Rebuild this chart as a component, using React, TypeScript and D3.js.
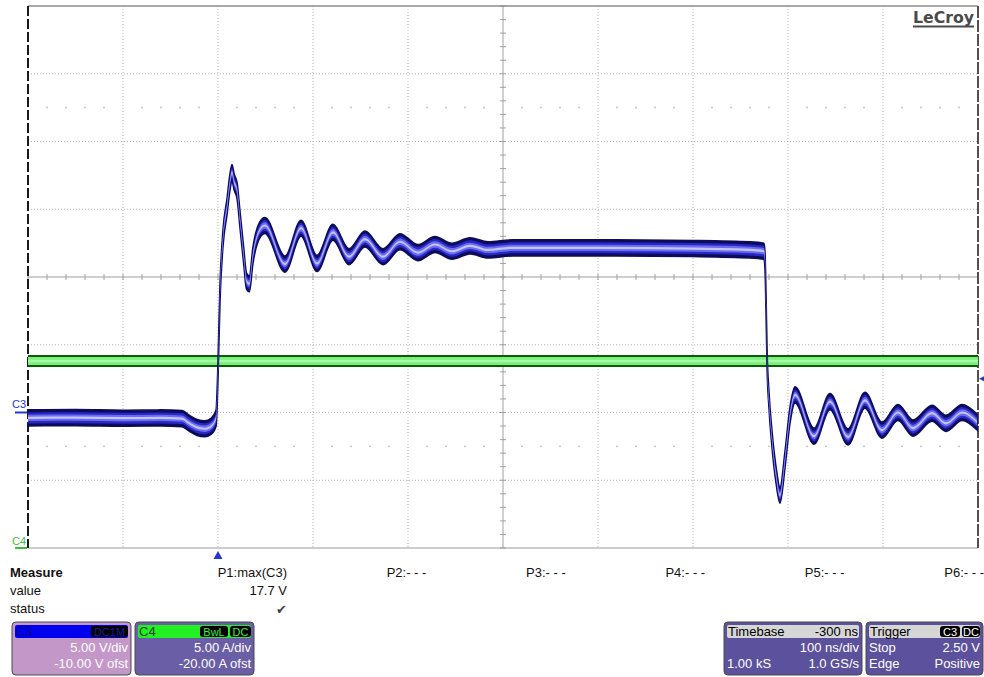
import React from 'react';
import * as d3 from 'd3';

// screen is 10 x 8 divisions
const timeRange = [-200, 800]; // ns, 100 ns/div, trigger at 0
const c3Range = [-10, 30]; // V, 5.00 V/div, -10.00 V ofst
const c4Range = [0, 40]; // A, 5.00 A/div, -20.00 A ofst

// C3 (blue) trace
const c3Time = [
  -200, -150, -100, -60, -38, -30, -22, -14, -7, -2, 0, 2.1, 5.3, 9.5, 12.6, 14.7, 17, 20, 23.2, 27,
  30, 33, 36.8, 44.2, 49.5, 70.5, 87.4, 104.2, 121, 137.9, 154.7, 173.7, 191.6, 210.5, 228.4, 246.3, 265.3,
  284.2, 310, 400, 500, 560, 574.7, 575.8, 576.8, 578, 580, 583.2, 587.4, 591.6, 596.8, 602.1, 607.4,
  627.4, 644.2, 663.2, 681, 698.9, 715.8, 731.6, 751.6, 766.3, 783.2, 799,
];
const c3Volts = [
  -0.4, -0.38, -0.42, -0.4, -0.45, -0.8, -1.1, -1.2, -1.0, -0.4, 3.1, 8.8, 12.9, 15.2, 17.0, 17.7, 17.0, 16.4, 14.2, 11.6,
  9.7, 9.5, 11.6, 13.5, 13.8, 10.95, 13.6, 11.0, 13.3, 11.5, 12.8, 11.5, 12.6, 11.8, 12.4, 11.9, 12.3,
  12.0, 12.15, 12.15, 12.1, 12.0, 11.9, 11.2, 8.3, 3.9, 0.9, -2.0, -4.6, -6.1, -3.5, -0.2, 1.3,
  -1.75, 0.8, -1.8, 0.9, -1.3, 0.0, -1.15, -0.05, -0.8, 0.0, -0.7,
];

// C4 (green) trace
const c4Time = [-200, 0, 300, 575, 800];
const c4Amps = [13.8, 13.8, 13.8, 13.8, 13.8];

const measureLabels = ['P1:max(C3)', 'P2:- - -', 'P3:- - -', 'P4:- - -', 'P5:- - -', 'P6:- - -'];
const measureRows = ['value', 'status'];
const p1Value = '17.7 V';

const FONT = '"Liberation Sans", Arial, sans-serif';

function Badge({ x, y, w, label, color }) {
  return (
    <g>
      <rect x={x} y={y} width={w} height={11} rx={3} fill="#000" />
      <text x={x + w / 2} y={y + 9.5} textAnchor="middle" fontSize={11} fill={color} fontFamily={FONT}>{label}</text>
    </g>
  );
}

function Panel({ x, w, head, body, left, leftColor, right, badges, rows }) {
  const y = 622;
  return (
    <g fontFamily={FONT}>
      <rect x={x} y={y} width={w} height={53} rx={4} fill={body} stroke="#4a4a4a" strokeWidth={1} />
      <rect x={x + 3} y={y + 3} width={w - 6} height={13} rx={2} fill={head} />
      <text x={x + 4} y={y + 14} fontSize={13} fill={leftColor}>{left}</text>
      {right && <text x={x + w - 4} y={y + 14} fontSize={13} textAnchor="end" fill="#000">{right}</text>}
      {badges && badges.map((b, i) => <Badge key={i} {...b} />)}
      {rows.map((r, i) => (
        <g key={i}>
          {r[0] && <text x={x + 3} y={y + 30 + i * 16} fontSize={13} fill="#fff">{r[0]}</text>}
          {r[1] && <text x={x + w - 3} y={y + 30 + i * 16} fontSize={13} fill="#fff" textAnchor="end">{r[1]}</text>}
        </g>
      ))}
    </g>
  );
}

export default function App() {
  const x = d3.scaleLinear().domain(timeRange).range([28, 978]);
  const yV = d3.scaleLinear().domain(c3Range).range([548, 6]);
  const yA = d3.scaleLinear().domain(c4Range).range([548, 6]);

  const majorX = x.ticks(10);
  const majorY = yV.ticks(8);
  const minorX = d3.range(timeRange[0], timeRange[1] + 1, 20);
  const minorY = d3.range(c3Range[0], c3Range[1] + 0.01, 1);
  const cx = x(300);
  const cy = yV(10);
  const [L, R] = x.range();
  const [B, T] = yV.range();

  const band = (ts: number[], vs: number[], ys: any, h: number) =>
    d3.area<number>()
      .x((_, i) => x(ts[i]))
      .y0((v) => ys(v) + h)
      .y1((v) => ys(v) - h)
      .curve(d3.curveMonotoneX)(vs) || '';

  return (
    <svg width={984} height={677} style={{ position: 'absolute', left: 0, top: 0, background: '#fff' }}>
      <defs>
        <clipPath id="plot">
          <rect x={L} y={T} width={R - L} height={B - T} />
        </clipPath>
      </defs>

      {/* grid */}
      {majorX.filter((t) => t !== 300 && t !== timeRange[0] && t !== timeRange[1]).map((t) => (
        <line key={'gx' + t} x1={x(t)} x2={x(t)} y1={T} y2={B} stroke="#b4b4b4" strokeDasharray="1,2" />
      ))}
      {majorY.filter((v) => v !== 10 && v !== c3Range[0] && v !== c3Range[1]).map((v) => (
        <line key={'gy' + v} x1={L} x2={R} y1={yV(v)} y2={yV(v)} stroke="#b4b4b4" strokeDasharray="1,2" />
      ))}
      {[22.5, -2.5].map((v) =>
        minorX.filter((t) => t % 100 !== 0).map((t) => (
          <rect key={'d' + v + t} x={x(t) - 0.75} y={yV(v) - 0.75} width={1.5} height={1.5} fill="#b8b8b8" />
        ))
      )}
      {/* centre axes with ticks */}
      <line x1={L} x2={R} y1={cy} y2={cy} stroke="#a0a0a0" />
      <line x1={cx} x2={cx} y1={T} y2={B} stroke="#a0a0a0" />
      {minorX.map((t) => (
        <line key={'tx' + t} x1={x(t)} x2={x(t)} y1={cy - 3} y2={cy + 3} stroke="#a0a0a0" />
      ))}
      {minorY.map((v) => (
        <line key={'ty' + v} x1={cx - 3} x2={cx + 3} y1={yV(v)} y2={yV(v)} stroke="#a0a0a0" />
      ))}
      {/* borders */}
      <line x1={L} x2={R} y1={T} y2={T} stroke="#8c8c8c" strokeWidth={1.5} />
      <line x1={L} x2={R} y1={B} y2={B} stroke="#9a9a9a" strokeWidth={1.2} />
      <line x1={L} x2={L} y1={T} y2={B} stroke="#1a1a1a" strokeWidth={2} strokeDasharray="10,3" />
      <line x1={R} x2={R} y1={T} y2={B} stroke="#505050" strokeWidth={2} strokeDasharray="12,2" />

      {/* traces */}
      <g clipPath="url(#plot)">
        <path d={band(c4Time, c4Amps, yA, 6)} fill="#0d5a0d" />
        <path d={band(c4Time, c4Amps, yA, 4)} fill="#7cee7c" />
        <path d={band(c4Time, c4Amps, yA, 1.2)} fill="#a4ffa4" />

        <path d={band(c3Time, c3Volts, yV, 8)} fill="#0c0c5a" stroke="#0c0c5a" strokeWidth={1.6} />
        <path d={band(c3Time, c3Volts, yV, 5.5)} fill="#2828c8" />
        <path d={band(c3Time, c3Volts, yV, 3.2)} fill="#6c6cee" />
        <path d={band(c3Time, c3Volts, yV, 1.1)} fill="#c4c4ff" />
      </g>

      {/* channel markers */}
      <text x={12} y={408} fontSize={11} fill="#2438d0" fontFamily={FONT}>C3</text>
      <line x1={15} x2={27} y1={yV(0)} y2={yV(0)} stroke="#2438d0" strokeWidth={2} />
      <text x={12} y={545} fontSize={11} fill="#3cbf3c" fontFamily={FONT}>C4</text>
      <line x1={15} x2={27} y1={yA(0)} y2={yA(0)} stroke="#3cbf3c" strokeWidth={2} />
      <polygon points={`${x(0)},${B + 3} ${x(0) - 4.5},${B + 11} ${x(0) + 4.5},${B + 11}`} fill="#2438d0" />
      <polygon points={`${R + 1},${yV(2.5)} ${R + 7},${yV(2.5) - 3} ${R + 7},${yV(2.5) + 3}`} fill="#2438d0" />

      {/* logo */}
      <text x={974} y={23} textAnchor="end" fontSize={16} fontWeight="bold" fill="#4a4a4a" fontFamily='"DejaVu Sans", sans-serif' textLength={61} lengthAdjust="spacingAndGlyphs">LeCroy</text>
      <line x1={913} x2={974} y1={26.5} y2={26.5} stroke="#4a4a4a" strokeWidth={2} />

      {/* measurement table */}
      <g fontFamily={FONT} fontSize={13} fill="#111">
        <text x={10} y={577} fontWeight="bold">Measure</text>
        {measureRows.map((r, i) => (
          <text key={r} x={10} y={595 + i * 18}>{r}</text>
        ))}
        {measureLabels.map((m, i) => (
          <text key={m} x={287 + i * 139.4} y={577} textAnchor="end">{m}</text>
        ))}
        <text x={287} y={595} textAnchor="end">{p1Value}</text>
        <text x={287} y={614} textAnchor="end" fill="#444" fontFamily='"DejaVu Sans", sans-serif' fontSize={13}>✔</text>
      </g>

      {/* channel / timebase / trigger panels */}
      <Panel x={12} w={119} head="#0000ee" body="#c398c9" left="C3" leftColor="#0a0a8c"
        badges={[{ x: 91, y: 626, w: 37, label: 'DC1M', color: '#1a1aa0' }]}
        rows={[[null, '5.00 V/div'], [null, '-10.00 V ofst']]} />
      <Panel x={135} w={119} head="#22f022" body="#6a5ea6" left="C4" leftColor="#1a3a1a"
        badges={[{ x: 200, y: 626, w: 28, label: 'BwL', color: '#3cf03c' }, { x: 230, y: 626, w: 21, label: 'DC', color: '#3cf03c' }]}
        rows={[[null, '5.00 A/div'], [null, '-20.00 A ofst']]} />
      <Panel x={724} w={138} head="#d6d6d6" body="#5c519c" left="Timebase" leftColor="#000" right="-300 ns"
        rows={[[null, '100 ns/div'], ['1.00 kS', '1.0 GS/s']]} />
      <Panel x={866} w={117} head="#d6d6d6" body="#5c519c" left="Trigger" leftColor="#000"
        badges={[{ x: 940, y: 626, w: 20, label: 'C3', color: '#fff' }, { x: 962, y: 626, w: 18, label: 'DC', color: '#fff' }]}
        rows={[['Stop', '2.50 V'], ['Edge', 'Positive']]} />
    </svg>
  );
}
